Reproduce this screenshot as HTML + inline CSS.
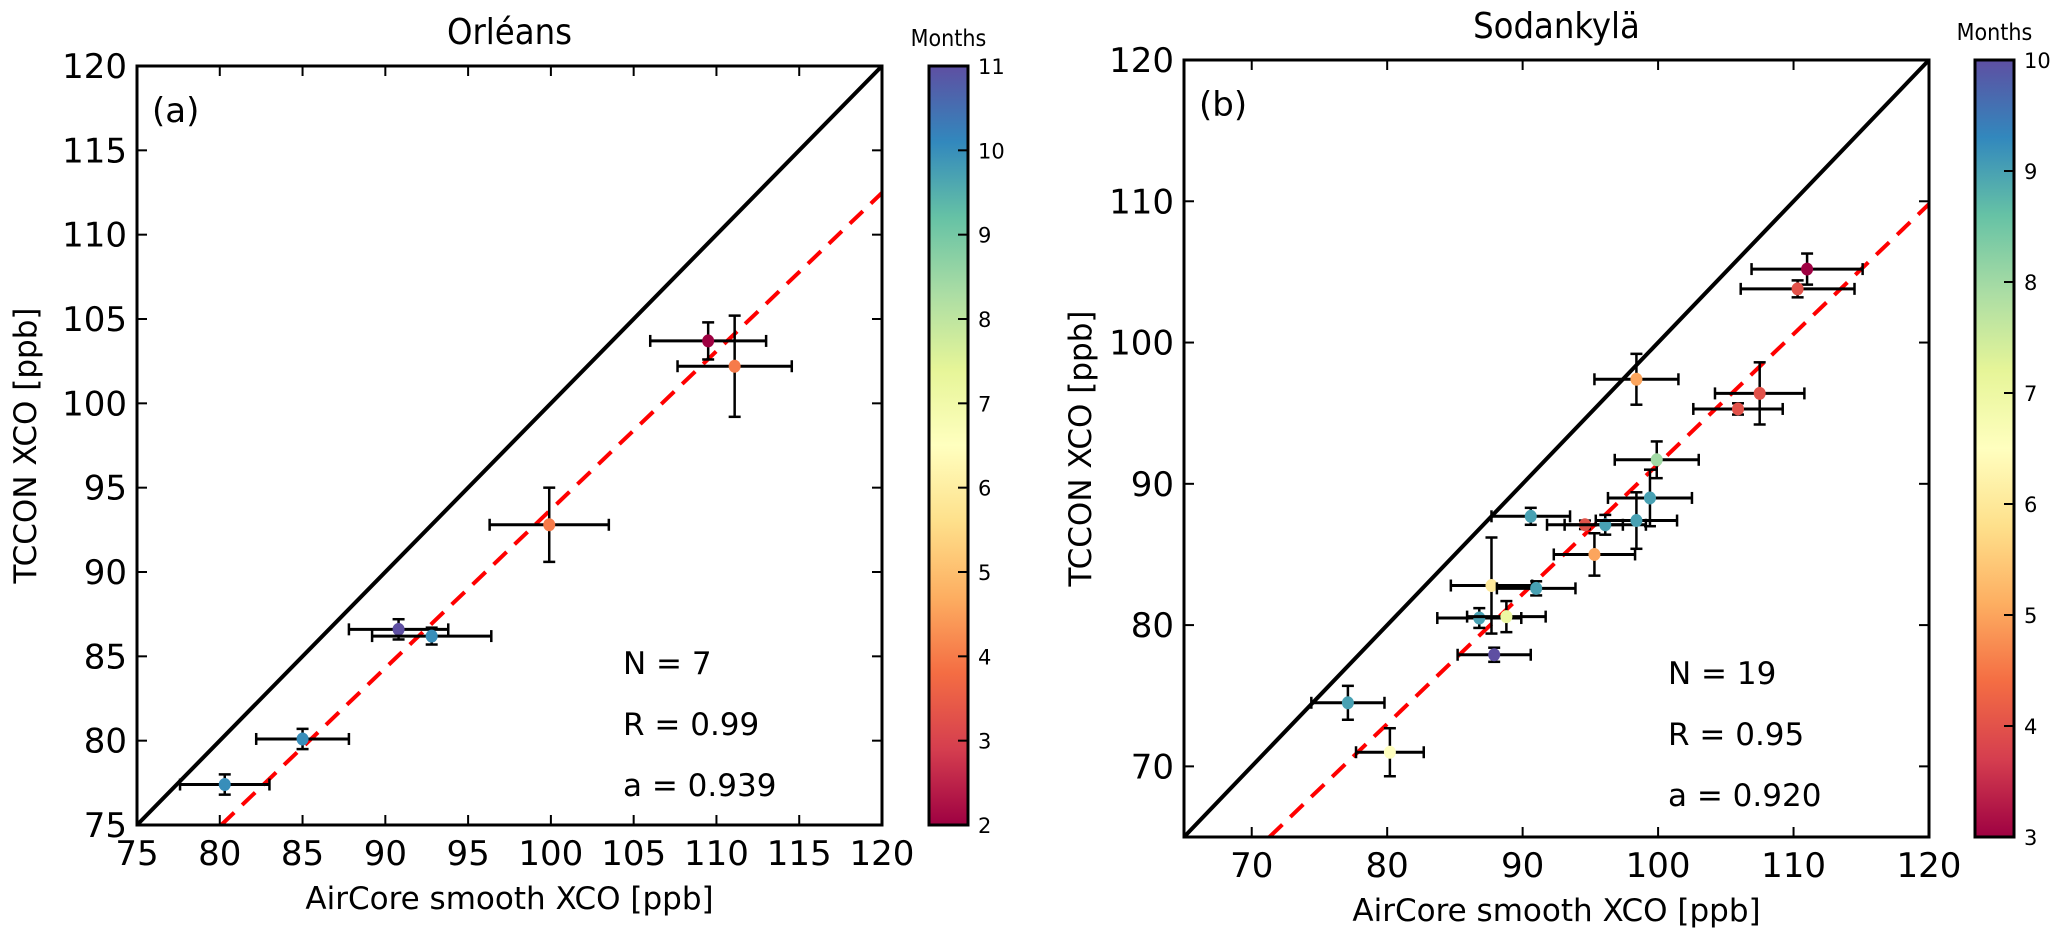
<!DOCTYPE html>
<html><head><meta charset="utf-8">
<style>
html,body{margin:0;padding:0;background:#fff;}
svg{display:block;font-family:"DejaVu Sans","Liberation Sans",sans-serif;}
</style></head>
<body>
<svg id="fig" width="2067" height="951" viewBox="0 0 2067 951" xmlns="http://www.w3.org/2000/svg">
<defs>
<linearGradient id="spec" x1="0" y1="1" x2="0" y2="0">
<stop offset="0" stop-color="#9e0142"/><stop offset="0.1" stop-color="#d53e4f"/><stop offset="0.2" stop-color="#f46d43"/><stop offset="0.3" stop-color="#fdae61"/><stop offset="0.4" stop-color="#fee08b"/><stop offset="0.5" stop-color="#ffffbf"/><stop offset="0.6" stop-color="#e6f598"/><stop offset="0.7" stop-color="#abdda4"/><stop offset="0.8" stop-color="#66c2a5"/><stop offset="0.9" stop-color="#3288bd"/><stop offset="1" stop-color="#5e4fa2"/>
</linearGradient>
</defs>
</svg>
<script>
// Panel (a) Orléans data
const aX=[80.3,85.0,90.8,92.8,99.9,109.5,111.1];
const aY=[77.4,80.1,86.6,86.2,92.8,103.7,102.2];
const aXerr=[2.7,2.8,3.0,3.6,3.6,3.5,3.45];
const aYerr=[0.6,0.6,0.6,0.5,2.2,1.1,3.0];
const aMonth=[10,10,11,10,4,2,4];
const aXTicks=[75,80,85,90,95,100,105,110,115,120];
const aYTicks=[75,80,85,90,95,100,105,110,115,120];
const aCbTicks=[2,3,4,5,6,7,8,9,10,11];
const aStats=["N = 7","R = 0.99","a = 0.939"];
const aFit=[0.939,-0.2];
// Panel (b) Sodankylä data
const bX=[111.0,110.3,98.4,107.5,105.9,99.9,99.4,90.6,94.6,96.1,98.4,95.3,87.7,91.0,86.8,88.8,87.9,77.1,80.2];
const bY=[105.2,103.8,97.4,96.4,95.3,91.7,89.0,87.7,87.1,87.1,87.4,85.0,82.8,82.6,80.5,80.6,77.9,74.5,71.0];
const bXerr=[4.1,4.2,3.1,3.3,3.3,3.1,3.1,2.9,2.8,3.0,3.0,3.0,3.0,2.9,3.1,2.9,2.7,2.7,2.5];
const bYerr=[1.1,0.6,1.8,2.2,0.4,1.3,2.0,0.6,0.3,0.7,2.0,1.5,3.4,0.5,0.7,1.1,0.5,1.2,1.7];
const bMonth=[3,4,5,4,4,8,9,9,4,9,9,5,6,9,9,7,10,9,6.5];
const bXTicks=[70,80,90,100,110,120];
const bYTicks=[70,80,90,100,110,120];
const bCbTicks=[3,4,5,6,7,8,9,10];
const bStats=["N = 19","R = 0.95","a = 0.920"];
const bFit=[0.920,-0.6];

const svg=document.getElementById('fig');
const NS='http://www.w3.org/2000/svg';
function mk(tag,attrs,parent){const e=document.createElementNS(NS,tag);for(const k in attrs)e.setAttribute(k,attrs[k]);(parent||svg).appendChild(e);return e;}
const stops=[[0,[158,1,66]],[0.1,[213,62,79]],[0.2,[244,109,67]],[0.3,[253,174,97]],[0.4,[254,224,139]],[0.5,[255,255,191]],[0.6,[230,245,152]],[0.7,[171,221,164]],[0.8,[102,194,165]],[0.9,[50,136,189]],[1,[94,79,162]]];
function cmap(t){t=Math.max(0,Math.min(1,t));for(let i=1;i<stops.length;i++){if(t<=stops[i][0]){const a=stops[i-1],b=stops[i];const f=(t-a[0])/(b[0]-a[0]);const c=a[1].map((v,j)=>Math.round(v+(b[1][j]-v)*f));return 'rgb('+c.join(',')+')';}}return 'rgb(94,79,162)';}

function panel(o){
  const g=mk('g',{});
  
  
  const sx=v=>o.L+(v-o.x0)/(o.x1-o.x0)*(o.R-o.L);
  const sy=v=>o.B-(v-o.y0)/(o.y1-o.y0)*(o.B-o.T);
  const t=mk('text',{x:(o.L+o.R)/2,y:o.T-22,'font-size':36,'text-anchor':'middle','font-family':'"DejaVu Sans Condensed","DejaVu Sans",sans-serif'},g);t.textContent=o.title;
  
  const ol=mk('line',{x1:sx(Math.max(o.x0,o.y0)),y1:sy(Math.max(o.x0,o.y0)),x2:sx(120),y2:sy(120),stroke:'#000','stroke-width':4},g);
  
  const a=o.fit[0],b=o.fit[1];
  let fx0=(o.y0-b)/a; if(fx0<o.x0)fx0=o.x0;
  const fl=mk('line',{x1:sx(fx0),y1:sy(a*fx0+b),x2:sx(o.x1),y2:sy(a*o.x1+b),stroke:'#ff0000','stroke-width':4,'stroke-dasharray':'18,11'},g);
  
  for(let i=0;i<o.xs.length;i++){
    const cx=sx(o.xs[i]),cy=sy(o.ys[i]);
    const xl=sx(o.xs[i]-o.xe[i]),xr=sx(o.xs[i]+o.xe[i]),yt=sy(o.ys[i]+o.ye[i]),yb=sy(o.ys[i]-o.ye[i]);
    const eg=mk('g',{stroke:'#000','stroke-width':2.5,fill:'none'},g);
    
    mk('line',{x1:xl,y1:cy,x2:xr,y2:cy,'stroke-width':3},eg);
    mk('line',{x1:xl,y1:cy-6,x2:xl,y2:cy+6},eg);
    mk('line',{x1:xr,y1:cy-6,x2:xr,y2:cy+6},eg);
    mk('line',{x1:cx,y1:yt,x2:cx,y2:yb},eg);
    mk('line',{x1:cx-6,y1:yt,x2:cx+6,y2:yt},eg);
    mk('line',{x1:cx-6,y1:yb,x2:cx+6,y2:yb},eg);
    const p=mk('ellipse',{cx:cx,cy:cy,rx:6,ry:6.5,fill:cmap((o.months[i]-o.c0)/(o.c1-o.c0))},g);
    
  }
  const fr=mk('rect',{x:o.L,y:o.T,width:o.R-o.L,height:o.B-o.T,fill:'none',stroke:'#000','stroke-width':3},g);
  
  o.xt.forEach(v=>{const x=sx(v);
    mk('line',{x1:x,y1:o.B,x2:x,y2:o.B-10,stroke:'#000','stroke-width':2},g);
    mk('line',{x1:x,y1:o.T,x2:x,y2:o.T+10,stroke:'#000','stroke-width':2},g);
    const tl=mk('text',{x:x,y:o.B+40,'font-size':34,'text-anchor':'middle'},g);tl.textContent=v;
    });
  o.yt.forEach(v=>{const y=sy(v);
    mk('line',{x1:o.L,y1:y,x2:o.L+10,y2:y,stroke:'#000','stroke-width':2},g);
    mk('line',{x1:o.R,y1:y,x2:o.R-10,y2:y,stroke:'#000','stroke-width':2},g);
    const tl=mk('text',{x:o.L-10,y:y+12,'font-size':34,'text-anchor':'end'},g);tl.textContent=v;
    });
  const xl=mk('text',{x:(o.L+o.R)/2,y:o.B+84,'font-size':31,'text-anchor':'middle'},g);xl.textContent='AirCore smooth XCO [ppb]';
  
  const ym=(o.T+o.B)/2;
  const yl=mk('text',{x:o.ylx,y:ym,'font-size':31,'text-anchor':'middle',transform:'rotate(-90 '+o.ylx+' '+ym+')'},g);yl.textContent='TCCON XCO [ppb]';
  
  const pl=mk('text',{x:o.L+15,y:o.T+56,'font-size':34},g);pl.textContent=o.letter;
  
  o.stats.forEach((s,i)=>{const st=mk('text',{x:o.sx,y:o.sy+i*61,'font-size':31},g);st.textContent=s;
    });
  const cb=mk('rect',{x:o.cbL,y:o.T,width:o.cbW,height:o.B-o.T,fill:'url(#spec)',stroke:'#000','stroke-width':3},g);
  
  o.ct.forEach(v=>{const y=o.B-(v-o.c0)/(o.c1-o.c0)*(o.B-o.T);
    mk('line',{x1:o.cbL+o.cbW,y1:y,x2:o.cbL+o.cbW-10,y2:y,stroke:'#000','stroke-width':2},g);
    const tl=mk('text',{x:o.cbL+o.cbW+10,y:y+8,'font-size':21},g);tl.textContent=v;
    });
  const mt=mk('text',{x:o.cbL+o.cbW/2,y:o.T-20,'font-size':23,'text-anchor':'middle','font-family':'"DejaVu Sans Condensed","DejaVu Sans",sans-serif'},g);mt.textContent='Months';
  
}
panel({name:'panel-orleans',title:'Orléans',letter:'(a)',L:137,R:882,T:66,B:825,x0:75,x1:120,y0:75,y1:120,
  xs:aX,ys:aY,xe:aXerr,ye:aYerr,months:aMonth,xt:aXTicks,yt:aYTicks,ct:aCbTicks,c0:2,c1:11,fit:aFit,
  stats:aStats,sx:623,sy:674,cbL:929,cbW:39,ylx:36});
panel({name:'panel-sodankyla',title:'Sodankylä',letter:'(b)',L:1184,R:1929,T:60,B:837,x0:65,x1:120,y0:65,y1:120,
  xs:bX,ys:bY,xe:bXerr,ye:bYerr,months:bMonth,xt:bXTicks,yt:bYTicks,ct:bCbTicks,c0:3,c1:10,fit:bFit,
  stats:bStats,sx:1668,sy:684,cbL:1975,cbW:39,ylx:1091});
</script>
</body></html>
